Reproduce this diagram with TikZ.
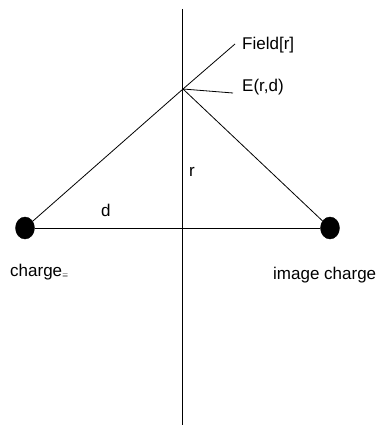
\documentclass[tikz,border=0pt]{standalone}
\usepackage{fontspec}
\setmainfont{Liberation Sans}
\usetikzlibrary{shapes.geometric}

\begin{document}
\begin{tikzpicture}[
  x=1pt, y=-1pt,
  font=\fontsize{17}{20}\selectfont,
  chargedot/.style={
    ellipse, fill=black, draw=black, inner sep=0pt,
    minimum width=19pt, minimum height=22pt},
  wire/.style={black, line width=0.8pt},
  lbl/.style={anchor=base west, inner sep=0pt},
]
\useasboundingbox (0,0) rectangle (379,428);

% ================= charges and field point ==========================
\node[chargedot] (charge) at (25,228) {};
\node[chargedot] (image)  at (330,228) {};
\coordinate (field)   at (183,89);
\coordinate (axtop)   at (182.5,9);
\coordinate (axbot)   at (182.5,425);
\coordinate (fieldend) at (235,44);
\coordinate (eend)    at (233,93);

% ================= lines ============================================
\draw[wire] (axtop) -- (axbot);
\draw[wire] (charge) -- (image);
\draw[wire] (charge) -- (field);
\draw[wire] (field) -- (fieldend);
\draw[wire] (field) -- (image);
\draw[wire] (field) -- (eend);

% ================= labels ===========================================
\node[lbl] (fieldlbl) at (242,49)  {Field[r]};
\node[lbl] (elbl)     at (242,91)  {E(r,d)};
\node[lbl] (rlbl)     at (189,176) {r};
\node[lbl] (dlbl)     at (101,216) {d};
\node[lbl] (chargelbl) at (10,276) {charge\raisebox{-1pt}{\scriptsize$\equiv$}};
\node[lbl] (imagelbl) at (273,279) {image charge};

\end{tikzpicture}
\end{document}
